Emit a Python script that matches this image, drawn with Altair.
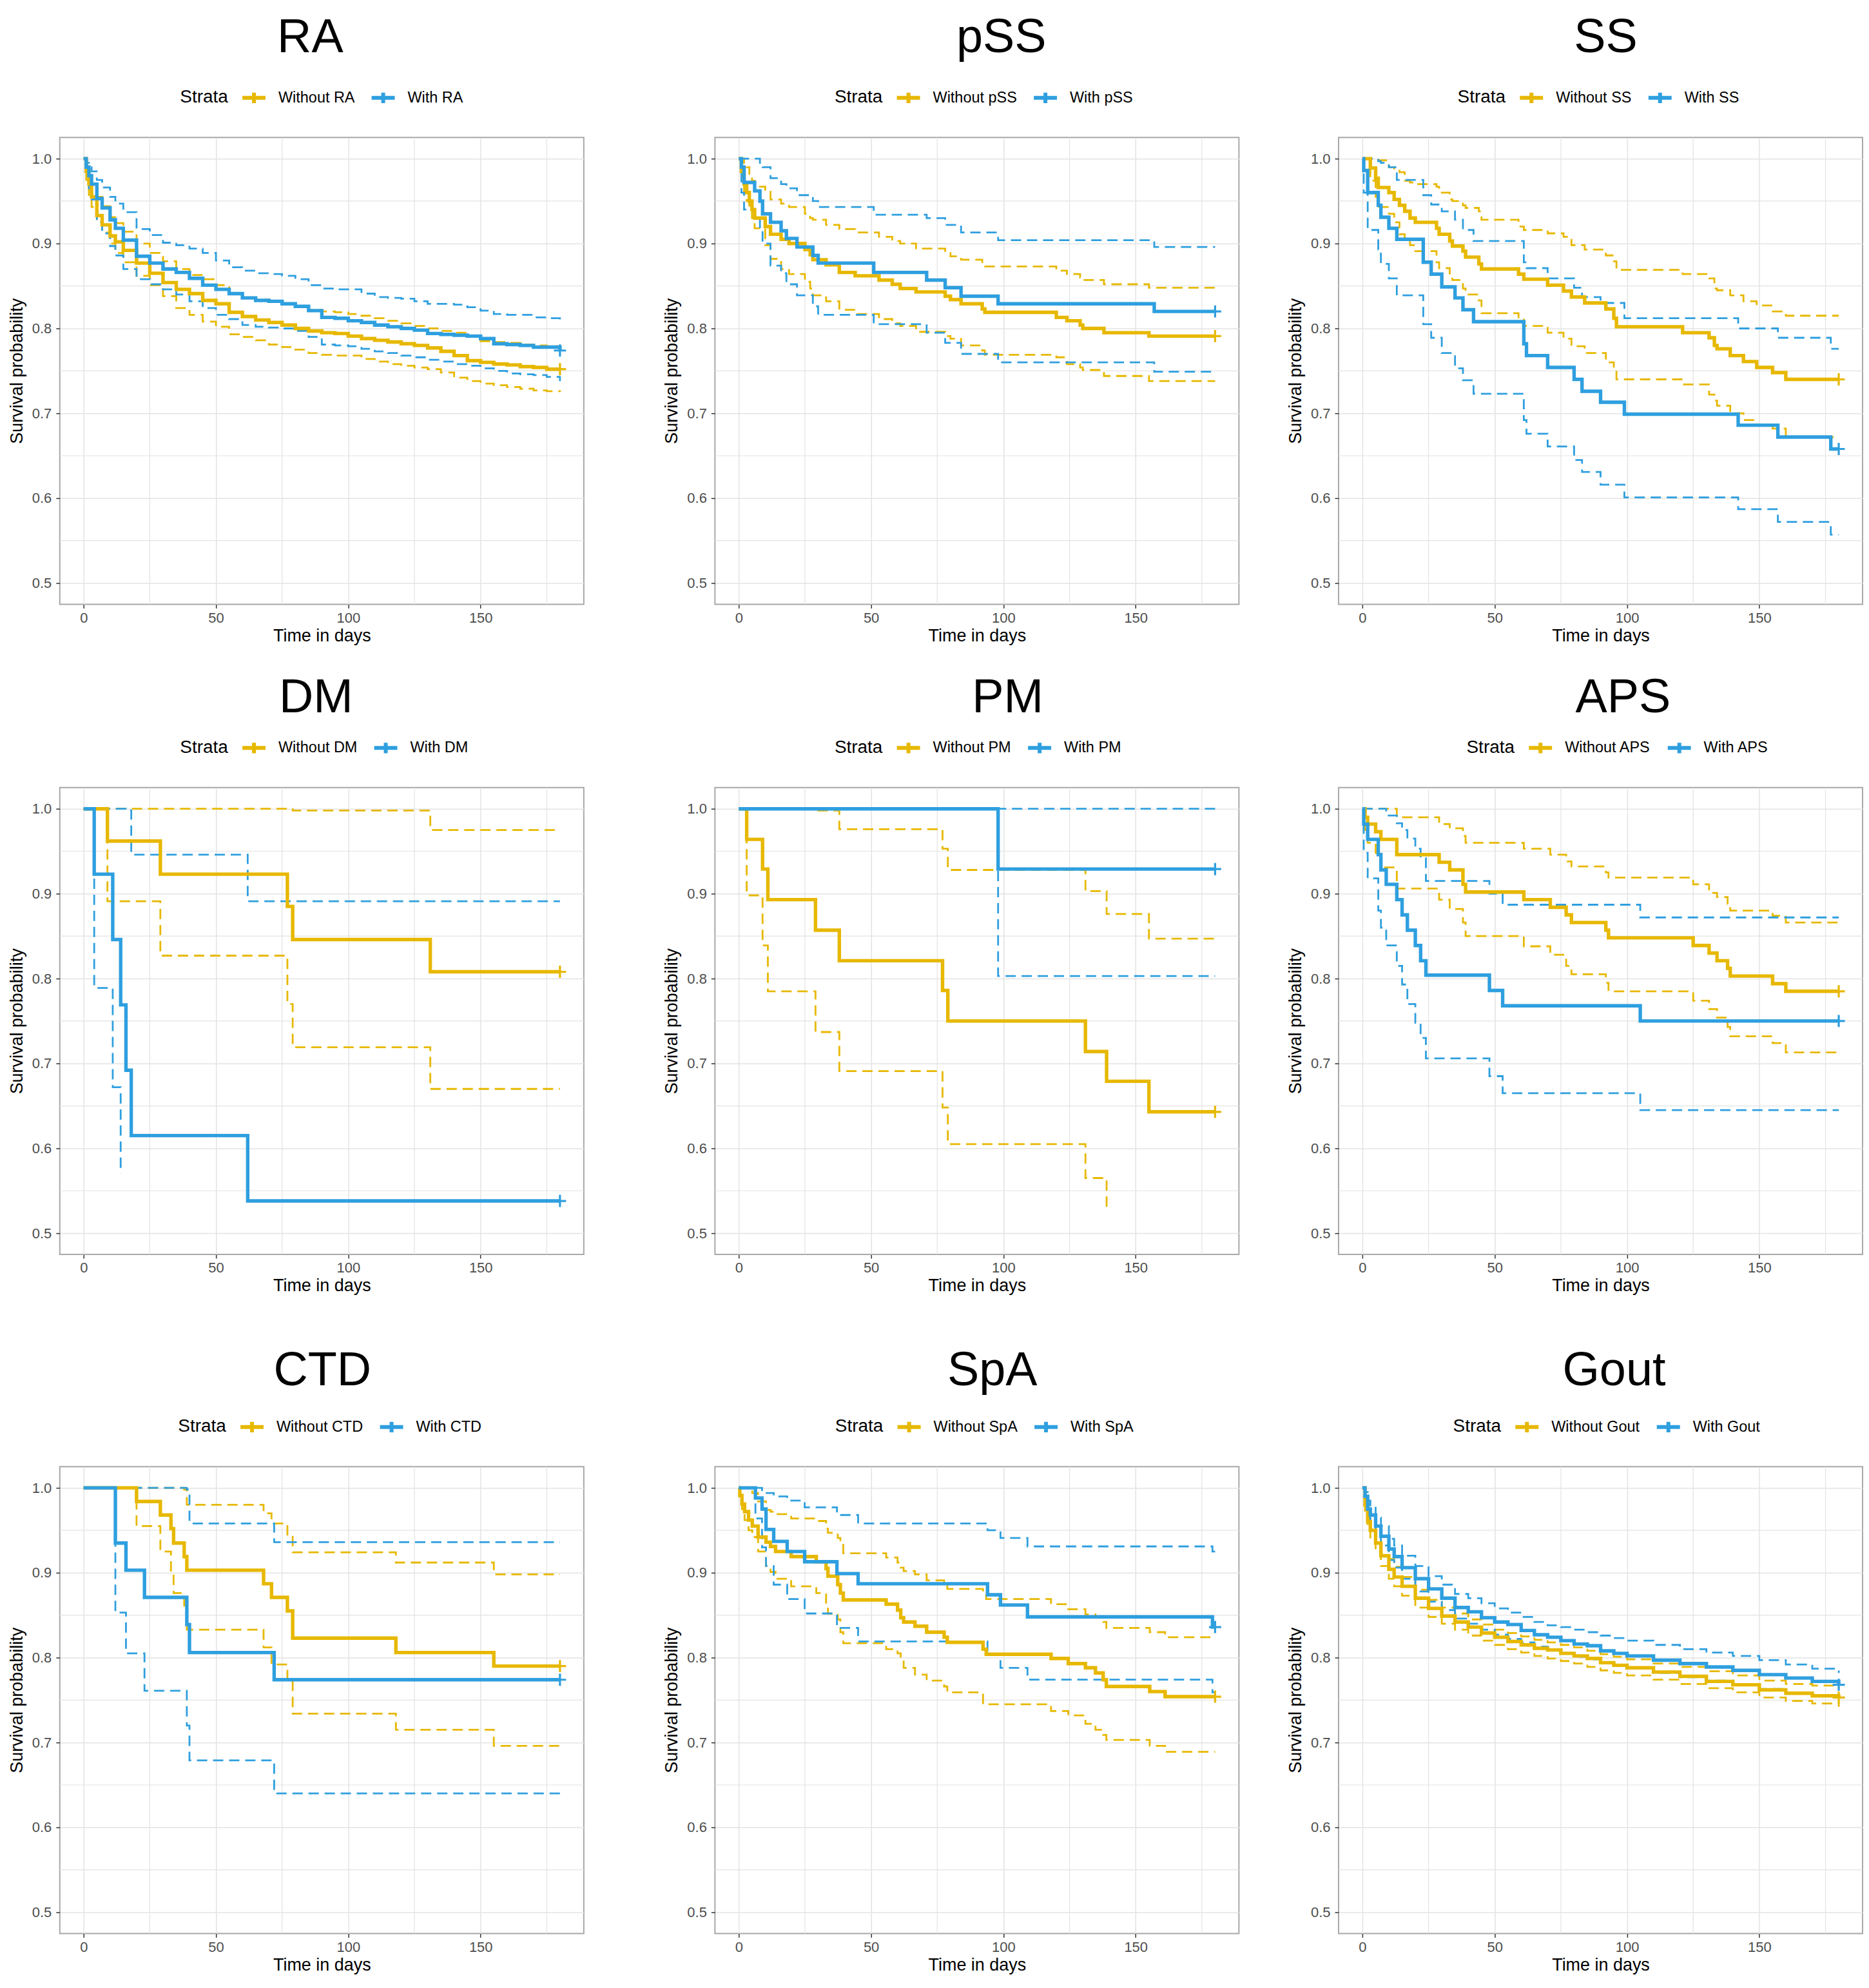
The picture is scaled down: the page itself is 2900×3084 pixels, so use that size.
import altair as alt
import pandas as pd

GOLD = "#E7B800"
BLUE = "#2E9FDF"
FONT = "Liberation Sans"
GRID = "#E3E3E3"

X_TICKS = [0, 50, 100, 150]
X_MINOR = [25, 75, 125, 175]
Y_TICKS = [0.5, 0.6, 0.7, 0.8, 0.9, 1.0]
Y_MINOR = [0.55, 0.65, 0.75, 0.85, 0.95]

# ---------------- RA ----------------
RA_T = [0, 1, 2, 3, 5, 7, 10, 12, 15, 20, 25, 30, 35, 40, 45, 50, 55, 60, 65, 70, 75, 80, 85, 90, 95, 100,
        105, 110, 115, 120, 125, 130, 135, 140, 145, 150, 155, 160, 165, 170, 175, 180]
RA_WITHOUT = dict(
    t=RA_T,
    s=[1.0, 0.985, 0.97, 0.955, 0.933, 0.922, 0.909, 0.902, 0.892, 0.877, 0.865, 0.854, 0.846, 0.841, 0.833,
       0.829, 0.819, 0.814, 0.810, 0.807, 0.804, 0.800, 0.797, 0.795, 0.794, 0.791, 0.788, 0.786, 0.784, 0.782,
       0.780, 0.777, 0.773, 0.768, 0.762, 0.760, 0.758, 0.757, 0.755, 0.754, 0.752, 0.752],
    u=[1.0, 0.99, 0.98, 0.97, 0.955, 0.944, 0.931, 0.924, 0.914, 0.900, 0.889, 0.879, 0.870, 0.863, 0.858,
       0.851, 0.841, 0.836, 0.834, 0.832, 0.829, 0.826, 0.822, 0.820, 0.819, 0.817, 0.815, 0.812, 0.809, 0.806,
       0.803, 0.800, 0.797, 0.795, 0.790, 0.785, 0.784, 0.783, 0.781, 0.780, 0.779, 0.778],
    l=[1.0, 0.975, 0.955, 0.943, 0.925, 0.913, 0.90, 0.889, 0.878, 0.862, 0.851, 0.838, 0.824, 0.816, 0.808,
       0.802, 0.793, 0.790, 0.786, 0.781, 0.778, 0.775, 0.771, 0.769, 0.768, 0.768, 0.764, 0.761, 0.758, 0.756,
       0.754, 0.752, 0.748, 0.742, 0.738, 0.735, 0.733, 0.731, 0.729, 0.727, 0.726, 0.725],
)
RA_WITH = dict(
    t=RA_T,
    s=[1.0, 0.99, 0.98, 0.97, 0.953, 0.942, 0.928, 0.918, 0.904, 0.885, 0.877, 0.870, 0.866, 0.859, 0.851,
       0.846, 0.841, 0.836, 0.833, 0.832, 0.829, 0.826, 0.821, 0.813, 0.812, 0.809, 0.807, 0.804, 0.802, 0.800,
       0.798, 0.794, 0.793, 0.792, 0.791, 0.788, 0.782, 0.781, 0.780, 0.778, 0.778, 0.774],
    u=[1.0, 0.995, 0.99, 0.985, 0.975, 0.966, 0.955, 0.947, 0.937, 0.917, 0.910, 0.901, 0.898, 0.894, 0.889,
       0.880, 0.872, 0.868, 0.865, 0.864, 0.862, 0.858, 0.851, 0.847, 0.846, 0.846, 0.841, 0.837, 0.836, 0.835,
       0.832, 0.829, 0.829, 0.828, 0.825, 0.821, 0.817, 0.816, 0.816, 0.813, 0.812, 0.808],
    l=[1.0, 0.985, 0.965, 0.952, 0.925, 0.912, 0.897, 0.886, 0.870, 0.858, 0.852, 0.846, 0.840, 0.832, 0.824,
       0.816, 0.811, 0.804, 0.802, 0.801, 0.800, 0.797, 0.790, 0.781, 0.780, 0.779, 0.776, 0.773, 0.771, 0.768,
       0.766, 0.763, 0.761, 0.758, 0.756, 0.753, 0.750, 0.747, 0.746, 0.745, 0.743, 0.738],
)

# ---------------- pSS ----------------
PSS_WITHOUT = dict(
    t=[0, 1, 2, 3, 4, 5, 6, 10, 12, 16, 19, 25, 27, 28, 33, 38, 44, 53, 58, 61, 67, 78, 80, 84, 92, 93,
       120, 124, 129, 130, 138, 155, 180],
    s=[1.0, 0.985, 0.97, 0.96, 0.95, 0.94, 0.93, 0.92, 0.911, 0.905, 0.90, 0.893, 0.887, 0.881, 0.875, 0.866,
       0.862, 0.857, 0.852, 0.847, 0.843, 0.838, 0.834, 0.829, 0.823, 0.819, 0.813, 0.809, 0.804, 0.800, 0.795,
       0.791, 0.791],
    u=[1.0, 1.0, 0.995, 0.99, 0.982, 0.974, 0.967, 0.961, 0.952, 0.947, 0.943, 0.935, 0.93, 0.928, 0.922,
       0.917, 0.913, 0.908, 0.903, 0.90, 0.894, 0.889, 0.885, 0.881, 0.877, 0.873, 0.868, 0.864, 0.86, 0.857,
       0.852, 0.848, 0.848],
    l=[1.0, 0.975, 0.96, 0.95, 0.94, 0.93, 0.918, 0.898, 0.882, 0.87, 0.864, 0.855, 0.847, 0.839, 0.832,
       0.822, 0.817, 0.811, 0.806, 0.803, 0.796, 0.791, 0.788, 0.780, 0.774, 0.769, 0.766, 0.758, 0.754, 0.751,
       0.744, 0.738, 0.738],
)
PSS_WITH = dict(
    t=[0, 1, 2, 6, 8, 9, 12, 16, 18, 22, 28, 30, 51, 71, 78, 84, 98, 157, 180],
    s=[1.0, 0.99, 0.972, 0.962, 0.95, 0.935, 0.925, 0.915, 0.906, 0.896, 0.886, 0.877, 0.866, 0.857, 0.848,
       0.838, 0.829, 0.82, 0.82],
    u=[1.0, 1.0, 1.0, 1.0, 0.995, 0.99, 0.977, 0.97, 0.965, 0.957, 0.95, 0.943, 0.934, 0.93, 0.922, 0.913,
       0.904, 0.896, 0.896],
    l=[1.0, 0.96, 0.94, 0.93, 0.915, 0.90, 0.874, 0.865, 0.852, 0.839, 0.826, 0.816, 0.805, 0.795, 0.783,
       0.770, 0.760, 0.749, 0.749],
)

# ---------------- SS ----------------
SS_WITHOUT = dict(
    t=[0, 3, 5, 6, 10, 12, 14, 16, 18, 20, 28, 29, 33, 34, 38, 39, 44, 45, 59, 61, 70, 76, 79, 84, 92, 95,
       96, 121, 131, 133, 134, 139, 144, 149, 155, 160, 180],
    s=[1.0, 0.989, 0.977, 0.966, 0.96, 0.952, 0.945, 0.938, 0.93, 0.925, 0.918, 0.911, 0.903, 0.897, 0.891,
       0.884, 0.876, 0.870, 0.864, 0.858, 0.851, 0.844, 0.837, 0.830, 0.823, 0.812, 0.802, 0.795, 0.789, 0.780,
       0.776, 0.768, 0.761, 0.754, 0.748, 0.740, 0.740],
    u=[1.0, 1.0, 1.0, 0.998, 0.99, 0.987, 0.984, 0.974, 0.972, 0.97, 0.967, 0.96, 0.952, 0.95, 0.945, 0.942,
       0.938, 0.928, 0.920, 0.916, 0.912, 0.908, 0.898, 0.893, 0.886, 0.879, 0.869, 0.864, 0.859, 0.847, 0.845,
       0.839, 0.832, 0.827, 0.820, 0.815, 0.815],
    l=[1.0, 0.974, 0.955, 0.943, 0.935, 0.925, 0.911, 0.905, 0.898, 0.891, 0.878, 0.871, 0.861, 0.857, 0.847,
       0.840, 0.833, 0.818, 0.812, 0.803, 0.795, 0.788, 0.779, 0.771, 0.760, 0.753, 0.740, 0.734, 0.722, 0.715,
       0.709, 0.700, 0.692, 0.687, 0.682, 0.672, 0.672],
)
SS_WITH = dict(
    t=[0, 0.5, 2, 6, 7, 10, 13, 23, 26, 30, 35, 38, 42, 61, 62, 70, 80, 83, 90, 99, 142, 157, 177, 180],
    s=[1.0, 0.986, 0.96, 0.945, 0.931, 0.918, 0.905, 0.878, 0.864, 0.849, 0.836, 0.822, 0.808, 0.782, 0.768,
       0.754, 0.740, 0.726, 0.713, 0.699, 0.686, 0.672, 0.658, 0.658],
    u=[1.0, 1.0, 1.0, 0.997, 0.995, 0.99, 0.975, 0.957, 0.946, 0.938, 0.928, 0.916, 0.903, 0.878, 0.871,
       0.859, 0.848, 0.837, 0.830, 0.812, 0.800, 0.789, 0.776, 0.776],
    l=[1.0, 0.96, 0.916, 0.893, 0.876, 0.859, 0.839, 0.805, 0.789, 0.771, 0.753, 0.739, 0.723, 0.692, 0.676,
       0.661, 0.645, 0.631, 0.616, 0.601, 0.587, 0.572, 0.557, 0.557],
)

# ---------------- DM ----------------
DM_WITHOUT = dict(
    t=[0, 9, 29, 77, 79, 131, 180],
    s=[1.0, 0.962, 0.923, 0.885, 0.846, 0.808, 0.808],
    u=[1.0, 1.0, 1.0, 1.0, 0.998, 0.975, 0.975],
    l=[1.0, 0.891, 0.827, 0.770, 0.719, 0.670, 0.670],
)
DM_WITH = dict(
    t=[0, 4, 11, 14, 16, 18, 62, 180],
    s=[1.0, 0.923, 0.846, 0.769, 0.692, 0.615, 0.538, 0.538],
    u=[1.0, 1.0, 1.0, 1.0, 0.998, 0.946, 0.891, 0.891],
    l=[1.0, 0.789, 0.672, 0.57, None, None, None, None],
)

# ---------------- PM ----------------
PM_WITHOUT = dict(
    t=[0, 3, 9, 11, 29, 38, 77, 79, 131, 139, 155, 180],
    s=[1.0, 0.964, 0.929, 0.893, 0.857, 0.821, 0.786, 0.75, 0.714, 0.679, 0.643, 0.643],
    u=[1.0, 1.0, 1.0, 1.0, 0.998, 0.976, 0.953, 0.928, 0.903, 0.876, 0.847, 0.847],
    l=[1.0, 0.898, 0.839, 0.785, 0.737, 0.691, 0.648, 0.605, 0.565, 0.531, None, None],
)
PM_WITH = dict(
    t=[0, 98, 180],
    s=[1.0, 0.929, 0.929],
    u=[1.0, 1.0, 1.0],
    l=[1.0, 0.803, 0.803],
)

# ---------------- APS ----------------
APS_WITHOUT = dict(
    t=[0, 1, 2, 5, 7, 13, 29, 33, 38, 39, 61, 71, 77, 79, 92, 93, 125, 131, 134, 138, 139, 155, 160, 180],
    s=[1.0, 0.99, 0.982, 0.973, 0.964, 0.946, 0.937, 0.928, 0.911, 0.902, 0.893, 0.884, 0.875, 0.866, 0.857,
       0.848, 0.839, 0.830, 0.821, 0.812, 0.803, 0.794, 0.785, 0.785],
    u=[1.0, 1.0, 1.0, 1.0, 1.0, 0.99, 0.982, 0.977, 0.968, 0.960, 0.953, 0.946, 0.938, 0.932, 0.925, 0.919,
       0.911, 0.901, 0.896, 0.888, 0.880, 0.874, 0.866, 0.866],
    l=[1.0, 0.975, 0.96, 0.948, 0.931, 0.906, 0.893, 0.882, 0.866, 0.850, 0.838, 0.828, 0.815, 0.805, 0.795,
       0.785, 0.774, 0.764, 0.754, 0.743, 0.732, 0.724, 0.713, 0.713],
)
APS_WITH = dict(
    t=[0, 0.5, 2, 6, 7, 9, 13, 15, 17, 20, 22, 24, 48, 53, 105, 180],
    s=[1.0, 0.982, 0.964, 0.946, 0.928, 0.911, 0.893, 0.875, 0.857, 0.839, 0.821, 0.804, 0.786, 0.768, 0.75, 0.75],
    u=[1.0, 1.0, 1.0, 1.0, 1.0, 0.992, 0.983, 0.975, 0.965, 0.953, 0.942, 0.915, 0.900, 0.887, 0.872, 0.872],
    l=[1.0, 0.948, 0.918, 0.88, 0.86, 0.839, 0.815, 0.793, 0.770, 0.748, 0.73, 0.706, 0.685, 0.665, 0.645, 0.645],
)

# ---------------- CTD ----------------
CTD_WITHOUT = dict(
    t=[0, 20, 29, 33, 34, 38, 39, 68, 71, 77, 79, 118, 155, 180],
    s=[1.0, 0.984, 0.968, 0.952, 0.935, 0.919, 0.903, 0.887, 0.871, 0.855, 0.823, 0.806, 0.79, 0.79],
    u=[1.0, 1.0, 1.0, 1.0, 1.0, 0.998, 0.98, 0.97, 0.958, 0.945, 0.924, 0.912, 0.898, 0.898],
    l=[1.0, 0.955, 0.925, 0.90, 0.876, 0.855, 0.833, 0.812, 0.792, 0.773, 0.734, 0.715, 0.696, 0.696],
)
CTD_WITH = dict(
    t=[0, 12, 16, 23, 39, 40, 72, 180],
    s=[1.0, 0.935, 0.903, 0.871, 0.839, 0.806, 0.774, 0.774],
    u=[1.0, 1.0, 1.0, 1.0, 0.998, 0.958, 0.936, 0.936],
    l=[1.0, 0.853, 0.805, 0.761, 0.720, 0.679, 0.640, 0.640],
)

# ---------------- SpA ----------------
SPA_WITHOUT = dict(
    t=[0, 0.4, 1.2, 2.2, 3.7, 5.1, 7.3, 10.3, 12, 13.9, 19.8, 29.3, 33, 33.7, 37.4, 38.4, 39.5, 55.7, 60,
       61.2, 62.3, 66.6, 71, 77.6, 78.8, 92.3, 93.5, 118, 124.5, 131, 134.8, 137.7, 138.9, 155.3, 161.1, 180],
    s=[1.0, 0.991, 0.981, 0.972, 0.962, 0.955, 0.942, 0.936, 0.931, 0.925, 0.919, 0.913, 0.905, 0.896, 0.886,
       0.876, 0.868, 0.863, 0.856, 0.847, 0.842, 0.837, 0.830, 0.824, 0.818, 0.810, 0.804, 0.799, 0.793, 0.788,
       0.782, 0.774, 0.766, 0.760, 0.754, 0.754],
    u=[1.0, 1.0, 1.0, 1.0, 0.997, 0.994, 0.984, 0.974, 0.972, 0.969, 0.964, 0.961, 0.952, 0.947, 0.941, 0.935,
       0.923, 0.918, 0.912, 0.906, 0.902, 0.898, 0.891, 0.886, 0.881, 0.875, 0.869, 0.863, 0.857, 0.851, 0.847,
       0.842, 0.835, 0.830, 0.824, 0.824],
    l=[1.0, 0.985, 0.975, 0.962, 0.95, 0.942, 0.925, 0.908, 0.901, 0.893, 0.884, 0.876, 0.862, 0.852, 0.845,
       0.83, 0.817, 0.810, 0.805, 0.801, 0.788, 0.780, 0.773, 0.766, 0.759, 0.745, 0.745, 0.737, 0.732, 0.722,
       0.715, 0.709, 0.703, 0.696, 0.689, 0.689],
)
SPA_WITH = dict(
    t=[0, 6.3, 8.8, 10.3, 13.2, 18.3, 24.9, 37.1, 45.1, 94, 98.9, 109.1, 179, 180],
    s=[1.0, 0.988, 0.975, 0.951, 0.937, 0.925, 0.913, 0.899, 0.887, 0.874, 0.862, 0.848, 0.836, 0.836],
    u=[1.0, 1.0, 0.994, 0.994, 0.99, 0.985, 0.977, 0.968, 0.958, 0.950, 0.941, 0.931, 0.925, 0.925],
    l=[1.0, 0.964, 0.93, 0.908, 0.886, 0.869, 0.852, 0.835, 0.819, 0.803, 0.788, 0.774, 0.759, 0.759],
)

# ---------------- Gout ----------------
GOUT_T = [0, 1, 2, 3, 5, 7, 10, 12, 15, 20, 25, 30, 35, 40, 45, 50, 55, 60, 65, 70, 75, 80, 85, 90, 95, 100,
          110, 120, 130, 140, 150, 160, 170, 180]
GOUT_WITHOUT = dict(
    t=GOUT_T,
    s=[1.0, 0.98, 0.96, 0.95, 0.935, 0.92, 0.904, 0.895, 0.884, 0.870, 0.858, 0.849, 0.842, 0.836, 0.829,
       0.824, 0.819, 0.815, 0.811, 0.809, 0.805, 0.802, 0.799, 0.794, 0.791, 0.788, 0.783, 0.778, 0.772, 0.768,
       0.762, 0.758, 0.755, 0.753],
    u=[1.0, 0.985, 0.968, 0.958, 0.945, 0.932, 0.916, 0.907, 0.895, 0.880, 0.868, 0.859, 0.852, 0.845, 0.839,
       0.833, 0.829, 0.825, 0.821, 0.818, 0.815, 0.812, 0.808, 0.804, 0.801, 0.798, 0.793, 0.789, 0.784, 0.779,
       0.773, 0.769, 0.767, 0.764],
    l=[1.0, 0.972, 0.952, 0.94, 0.925, 0.908, 0.893, 0.884, 0.873, 0.859, 0.848, 0.840, 0.833, 0.826, 0.820,
       0.815, 0.810, 0.806, 0.802, 0.799, 0.796, 0.793, 0.789, 0.785, 0.782, 0.779, 0.774, 0.769, 0.764, 0.759,
       0.753, 0.749, 0.746, 0.742],
)
GOUT_WITH = dict(
    t=GOUT_T,
    s=[1.0, 0.99, 0.975, 0.968, 0.955, 0.943, 0.928, 0.919, 0.906, 0.893, 0.881, 0.870, 0.859, 0.854, 0.847,
       0.842, 0.839, 0.832, 0.827, 0.824, 0.820, 0.816, 0.814, 0.808, 0.805, 0.802, 0.797, 0.793, 0.789, 0.785,
       0.780, 0.776, 0.772, 0.768],
    u=[1.0, 0.995, 0.985, 0.978, 0.965, 0.955, 0.94, 0.932, 0.92, 0.908, 0.896, 0.886, 0.875, 0.870, 0.864,
       0.858, 0.853, 0.848, 0.842, 0.838, 0.836, 0.833, 0.830, 0.826, 0.823, 0.820, 0.815, 0.810, 0.806, 0.802,
       0.797, 0.792, 0.787, 0.782],
    l=[1.0, 0.985, 0.965, 0.958, 0.945, 0.932, 0.915, 0.906, 0.893, 0.878, 0.866, 0.856, 0.846, 0.840, 0.833,
       0.827, 0.822, 0.818, 0.813, 0.809, 0.805, 0.801, 0.798, 0.794, 0.790, 0.787, 0.782, 0.777, 0.773, 0.769,
       0.763, 0.759, 0.756, 0.752],
)

# name, without, with, title dx, legend x
PANELS = [
    ("RA", RA_WITHOUT, RA_WITH, -18, 187),
    ("pSS", PSS_WITHOUT, PSS_WITH, 38, 186),
    ("SS", SS_WITHOUT, SS_WITH, 8, 185),
    ("DM", DM_WITHOUT, DM_WITH, -9, 187),
    ("PM", PM_WITHOUT, PM_WITH, 48, 186),
    ("APS", APS_WITHOUT, APS_WITH, 35, 199),
    ("CTD", CTD_WITHOUT, CTD_WITH, 1, 184),
    ("SpA", SPA_WITHOUT, SPA_WITH, 24, 187),
    ("Gout", GOUT_WITHOUT, GOUT_WITH, 21, 178),
]
ROW_TITLE_OFFSET = [34, 18, 28]

W, H = 815, 726
LEGEND_KEY = "M-1,0L1,0M0,-0.45L0,0.45"
PLUS = "M-1,0L1,0M0,-1L0,1"


def build_frames(name, wo, wi):
    lab_wo, lab_wi = f"Without {name}", f"With {name}"
    rows, ends = [], []
    for lab, d in ((lab_wo, wo), (lab_wi, wi)):
        for i, t in enumerate(d["t"]):
            rows.append(dict(strata=lab, kind="est", t=t, s=d["s"][i]))
            if d["u"][i] is not None:
                rows.append(dict(strata=lab, kind="upper", t=t, s=d["u"][i]))
            if d["l"][i] is not None:
                rows.append(dict(strata=lab, kind="lower", t=t, s=d["l"][i]))
        ends.append(dict(strata=lab, kind="cens", t=d["t"][-1], s=d["s"][-1]))
    return pd.DataFrame(rows), pd.DataFrame(ends), [lab_wo, lab_wi]


XAX = alt.Axis(values=X_TICKS, title="Time in days", grid=True, format="d", titlePadding=4, labelPadding=5)
YAX = alt.Axis(values=Y_TICKS, title="Survival probability", grid=True, format=".1f", titlePadding=9,
               labelPadding=7)
XS = alt.Scale(domain=[-9, 189], nice=False, zero=False)
YS = alt.Scale(domain=[0.475, 1.025], nice=False, zero=False)


def panel(name, wo, wi, tdx, lx, toff):
    df, ends, dom = build_frames(name, wo, wi)
    cscale = alt.Scale(domain=dom, range=[GOLD, BLUE])
    legend = alt.Legend(
        title="Strata", orient="none", legendX=lx, legendY=-83, direction="horizontal",
        titleOrient="left", titleFontSize=28, titleFontWeight="normal", titleColor="black",
        titleFont=FONT, titlePadding=19,
        labelFont=FONT, labelFontSize=23.5, labelColor="black", labelOffset=17, labelLimit=400,
        columnPadding=14, symbolType=LEGEND_KEY, symbolSize=1296, symbolStrokeWidth=6,
        symbolFillColor="transparent",
    )
    C = alt.Color("strata:N", scale=cscale, legend=legend)
    X = alt.X("t:Q", scale=XS, axis=XAX)
    Y = alt.Y("s:Q", scale=YS, axis=YAX)

    ygrid = alt.Chart(pd.DataFrame({"s": Y_MINOR})).mark_rule(color=GRID, strokeWidth=1.2).encode(y=Y)
    xgrid = alt.Chart(pd.DataFrame({"t": X_MINOR})).mark_rule(color=GRID, strokeWidth=1.2).encode(x=X)

    ci = alt.Chart(df).transform_filter(alt.datum.kind != "est").mark_line(
        interpolate="step-after", strokeDash=[16, 9], strokeWidth=2.8
    ).encode(x=X, y=Y, color=C, detail="kind:N")

    est = alt.Chart(df).transform_filter(alt.datum.kind == "est").mark_line(
        interpolate="step-after", strokeWidth=5.4
    ).encode(x=X, y=Y, color=C)

    cens = alt.Chart(ends).mark_point(shape=PLUS, size=360, filled=False, strokeWidth=3.2, opacity=1).encode(
        x=X, y=Y, color=C
    )

    return alt.layer(ygrid, xgrid, ci, est, cens).properties(
        width=W, height=H,
        title=alt.TitleParams(name, fontSize=74, font=FONT, fontWeight="normal", color="black",
                              anchor="middle", frame="group", dx=tdx, offset=toff),
    )


charts = []
for i, (name, wo, wi, tdx, lx) in enumerate(PANELS):
    charts.append(panel(name, wo, wi, tdx, lx, ROW_TITLE_OFFSET[i // 3]))


def ind(c):
    return c.resolve_scale(color="independent")


rows = []
for r in range(3):
    p = charts[3 * r:3 * r + 3]
    inner = ind(alt.hconcat(p[0], p[1], spacing=120))
    rows.append(ind(alt.hconcat(inner, p[2], spacing=71)))

top = ind(alt.vconcat(ind(alt.vconcat(rows[0], rows[1], spacing=45)), rows[2], spacing=80))

chart = top.properties(padding={"left": 3, "top": 9, "right": 0, "bottom": 0}).configure(
    background="white"
).configure_view(
    stroke="#A8A8A8", strokeWidth=2
).configure_axis(
    labelFont=FONT, labelFontSize=22, labelColor="#4D4D4D",
    titleFont=FONT, titleFontSize=27, titleFontWeight="normal", titleColor="black",
    tickColor="#333333", tickWidth=1.5, tickSize=6, domain=False,
    gridColor=GRID, gridWidth=1.5,
)

chart.save("out.html", embed_options={"renderer": "svg", "actions": False})
